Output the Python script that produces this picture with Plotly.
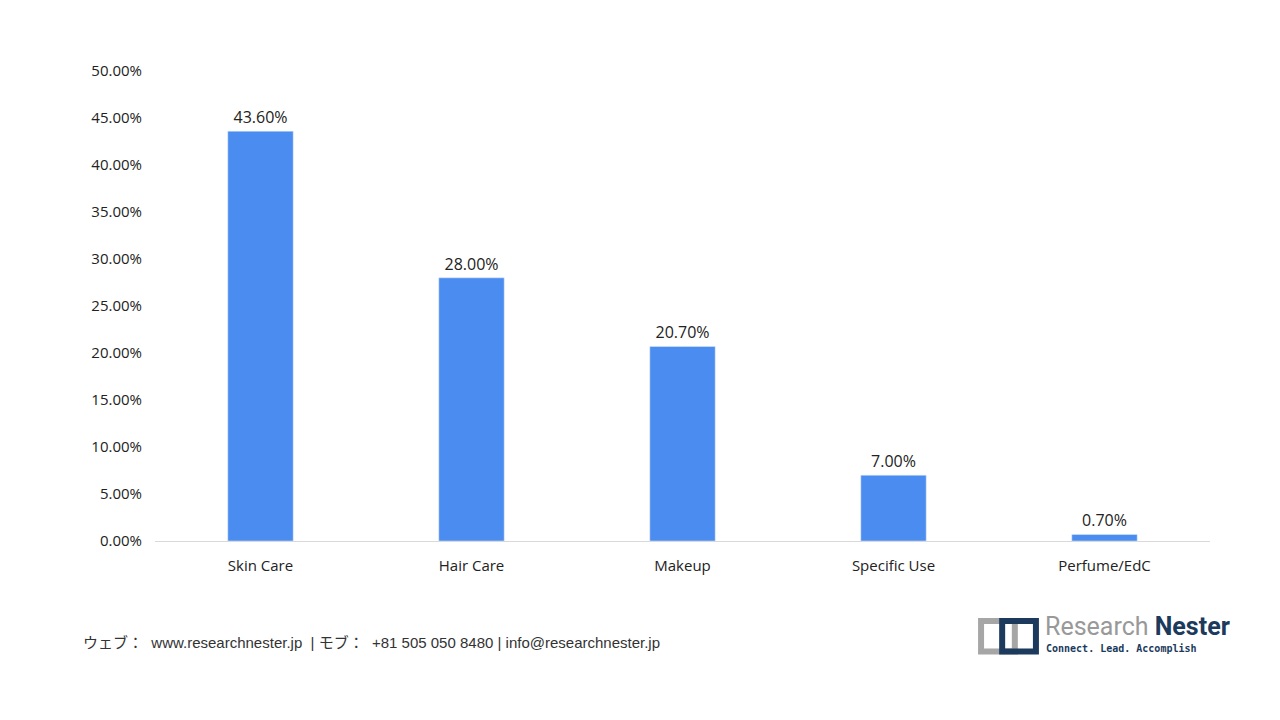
import plotly.graph_objects as go

categories = ["Skin Care", "Hair Care", "Makeup", "Specific Use", "Perfume/EdC"]
shares = [43.6, 28.0, 20.7, 7.0, 0.7]
tick_vals = [0, 5, 10, 15, 20, 25, 30, 35, 40, 45, 50]
tick_text = ["%.2f%%" % v for v in tick_vals]

fig = go.Figure()
fig.add_trace(go.Bar(
    x=categories,
    y=shares,
    marker=dict(color="#4a8cf0"),
    text=["%.2f%%" % v for v in shares],
    textposition="outside",
    textfont=dict(size=16, color="#222"),
    cliponaxis=False,
))

fig.update_layout(
    width=1280,
    height=720,
    paper_bgcolor="white",
    plot_bgcolor="white",
    font=dict(family="Open Sans", size=15, color="#222"),
    margin=dict(l=147, r=78, t=63, b=187),
    bargap=0.69,
    showlegend=False,
)
fig.update_yaxes(range=[0, 50], tickvals=tick_vals, ticktext=tick_text,
                 showgrid=False, zeroline=False, ticks="", ticklabelstandoff=12)
fig.update_xaxes(showline=True, linecolor="#d9d9d9", linewidth=1, ticks="",
                 ticklabelstandoff=11)

fig.add_annotation(xref="paper", yref="paper", x=-0.07, y=-0.215, xanchor="left",
                   yanchor="middle", showarrow=False,
                   text="ウェブ：  www.researchnester.jp  | モブ：  +81 505 050 8480 | info@researchnester.jp",
                   font=dict(size=15, color="#333", family="Liberation Sans, Noto Sans CJK JP"))
# logo
fig.add_shape(type="rect", xref="paper", yref="paper", x0=0.783, x1=0.815, y0=-0.235, y1=-0.17,
              line=dict(color="#a6a6a6", width=6))
fig.add_shape(type="rect", xref="paper", yref="paper", x0=0.803, x1=0.835, y0=-0.235, y1=-0.17,
              line=dict(color="#1b3a5c", width=6))
fig.add_annotation(xref="paper", yref="paper", x=0.842, y=-0.182, xanchor="left",
                   yanchor="middle", showarrow=False,
                   text="<span style='color:#999'>Research</span> <b>Nester</b>",
                   font=dict(size=25, color="#1b3a5c", family="Roboto"))
fig.add_annotation(xref="paper", yref="paper", x=0.843, y=-0.228, xanchor="left",
                   yanchor="middle", showarrow=False,
                   text="<b>Connect. Lead. Accomplish</b>",
                   font=dict(size=10, color="#1b3a5c", family="DejaVu Sans Mono"))

fig.write_html("out.html")
